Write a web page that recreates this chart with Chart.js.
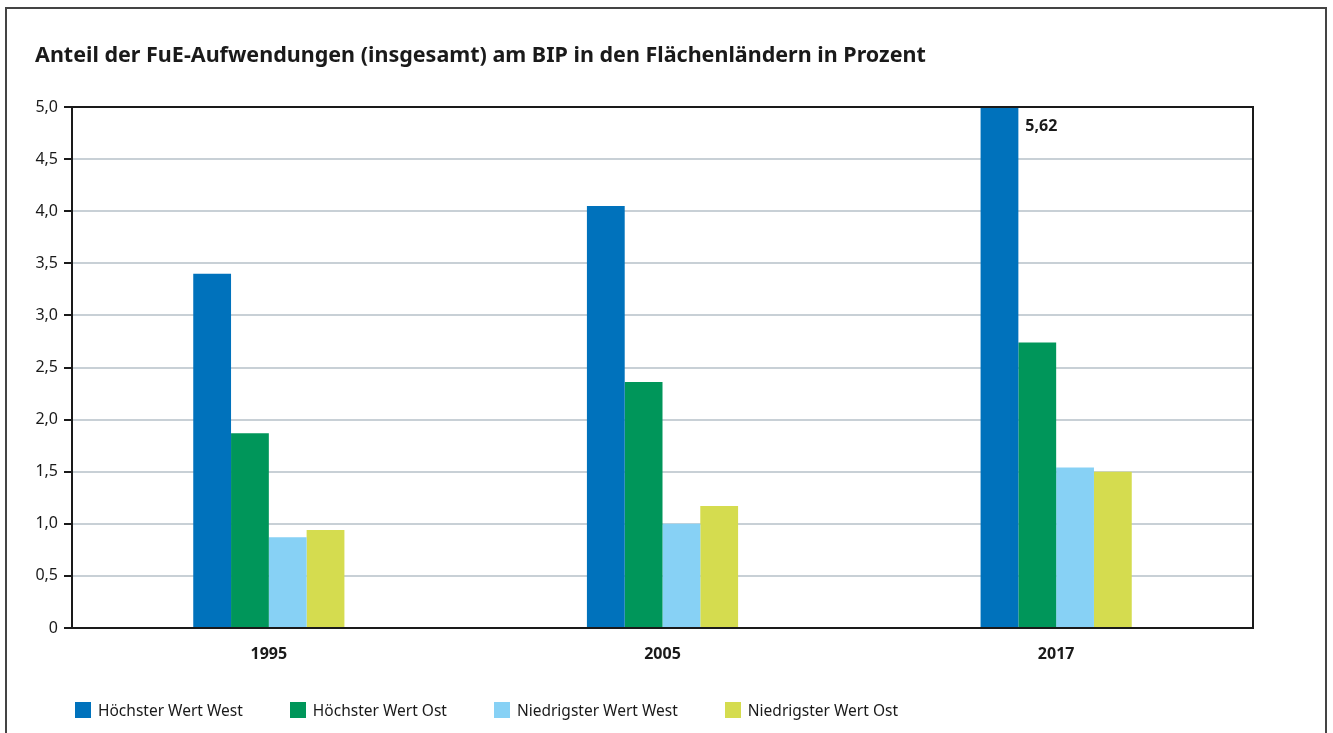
<!DOCTYPE html>
<html lang="de">
<head>
<meta charset="utf-8">
<title>FuE-Anteil am BIP</title>
<script src="https://cdn.jsdelivr.net/npm/chart.js@4.4.1/dist/chart.umd.min.js"></script>
<style>
  html, body { margin: 0; padding: 0; background: #fff; }
  body { width: 1333px; height: 733px; position: relative; overflow: hidden; font-family: 'Noto Sans', sans-serif; color: #1a1a1a; }
  .frame { position: absolute; left: 5px; top: 7px; width: 1322px; height: 760px; border: 2px solid #444; box-sizing: border-box; }
  h1 { position: absolute; left: 35px; top: 40px; margin: 0; font-size: 21.5px; font-weight: 700; line-height: 28px; }
  #chartWrap { position: absolute; left: 0; top: 0; width: 1333px; height: 733px; }
  .legend { position: absolute; left: 75px; top: 699px; display: flex; align-items: center; font-size: 15.5px; }
  .legend .item { display: flex; align-items: center; margin-right: 47px; }
  .legend .box { width: 16px; height: 16px; margin-right: 7px; }
</style>
</head>
<body>
<div class="frame"></div>
<div id="chartWrap"><canvas id="fueChart"></canvas></div>
<h1>Anteil der FuE-Aufwendungen (insgesamt) am BIP in den Flächenländern in Prozent</h1>
<div class="legend" id="legend"></div>

<script>
// ── Data ──────────────────────────────────────────────────────────────
const years = ['1995', '2005', '2017'];
const hoechstWest = [3.40, 4.05, 5.62];
const hoechstOst = [1.87, 2.36, 2.74];
const niedrigWest = [0.87, 1.00, 1.54];
const niedrigOst = [0.94, 1.17, 1.50];
const seriesNames = ['Höchster Wert West', 'Höchster Wert Ost', 'Niedrigster Wert West', 'Niedrigster Wert Ost'];
const seriesColors = ['#0072bc', '#00965a', '#87d1f5', '#d5dc4f'];

const fmt = v => v === 0 ? '0' : v.toFixed(1).replace('.', ',');

// ── Plugins ───────────────────────────────────────────────────────────
// black frame round the plot area
const plotFrame = {
  id: 'plotFrame',
  afterDraw(chart) {
    const { ctx, chartArea: a } = chart;
    ctx.save();
    ctx.strokeStyle = '#1a1a1a';
    ctx.lineWidth = 2;
    ctx.strokeRect(a.left, a.top, a.right - a.left, a.bottom - a.top);
    ctx.restore();
  }
};

// value label for the clipped bar
const clippedLabel = {
  id: 'clippedLabel',
  afterDatasetsDraw(chart) {
    const { ctx, chartArea: a, scales } = chart;
    const max = scales.y.max;
    chart.data.datasets.forEach((ds, di) => {
      const meta = chart.getDatasetMeta(di);
      ds.data.forEach((v, i) => {
        if (v <= max) return;
        const bar = meta.data[i];
        ctx.save();
        ctx.font = "bold 16px 'Noto Sans'";
        ctx.fillStyle = '#1a1a1a';
        ctx.textBaseline = 'middle';
        ctx.fillText(v.toFixed(2).replace('.', ','), bar.x + bar.width / 2 + 7, a.top + 19);
        ctx.restore();
      });
    });
  }
};

// ── Chart ─────────────────────────────────────────────────────────────
const values = [hoechstWest, hoechstOst, niedrigWest, niedrigOst];

const chart = new Chart(document.getElementById('fueChart'), {
  type: 'bar',
  data: {
    labels: years,
    datasets: values.map((d, i) => ({
      label: seriesNames[i],
      data: d,
      backgroundColor: seriesColors[i],
      borderWidth: 0,
      categoryPercentage: 0.384,
      barPercentage: 1.0
    }))
  },
  options: {
    responsive: true,
    maintainAspectRatio: false,
    animation: false,
    layout: { padding: { left: 0, right: 80, top: 107, bottom: 0 } },
    plugins: { legend: { display: false }, tooltip: { enabled: false } },
    scales: {
      x: {
        afterFit: s => { s.height = 105; },
        grid: { display: false, drawTicks: false },
        border: { display: false },
        ticks: { color: '#1a1a1a', padding: 17, font: { family: 'Noto Sans', size: 16, weight: 'bold' } }
      },
      y: {
        min: 0,
        max: 5,
        afterFit: s => { s.width = 72; },
        border: { display: false },
        grid: { color: '#c8d0d6', lineWidth: 2, tickLength: 8, tickColor: '#1a1a1a', tickWidth: 2 },
        ticks: {
          stepSize: 0.5,
          padding: 6,
          color: '#1a1a1a',
          font: { family: 'Noto Sans', size: 16 },
          callback: v => fmt(v)
        }
      }
    }
  },
  plugins: [plotFrame, clippedLabel]
});

// ── Legend ────────────────────────────────────────────────────────────
document.getElementById('legend').innerHTML = chart.data.datasets.map(ds =>
  `<div class="item"><span class="box" style="background:${ds.backgroundColor}"></span>${ds.label}</div>`
).join('');
</script>
</body>
</html>
